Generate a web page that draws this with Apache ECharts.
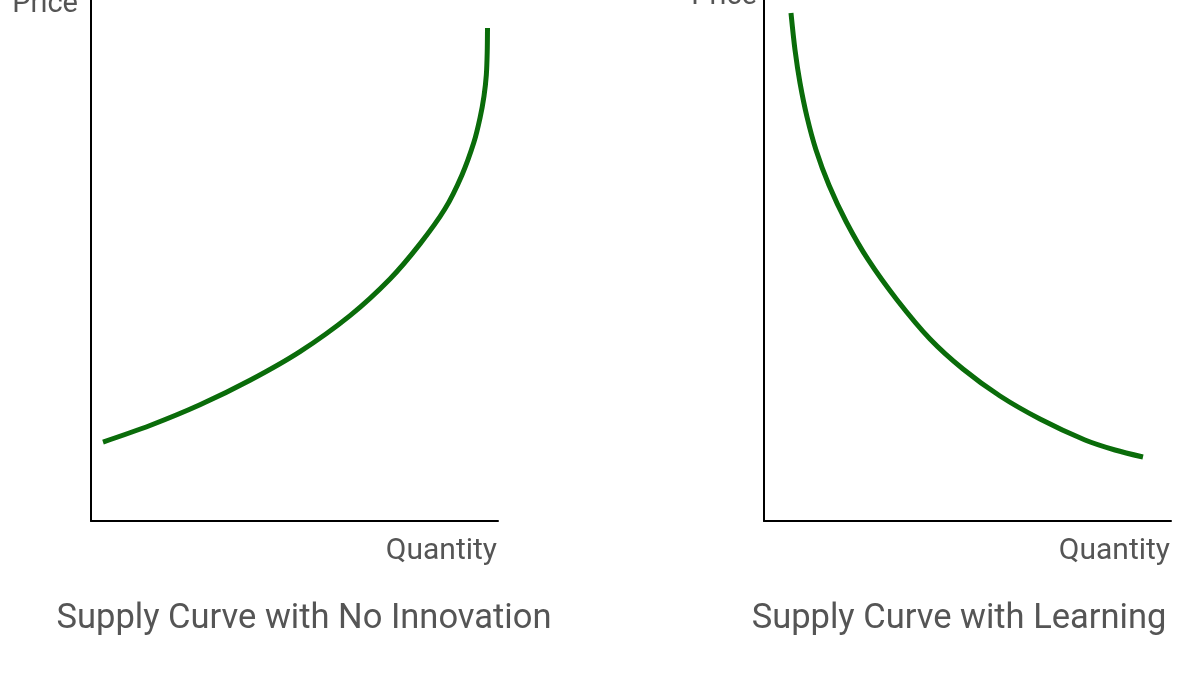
<!DOCTYPE html>
<html><head><meta charset="utf-8">
<script src="https://cdn.jsdelivr.net/npm/echarts@6/dist/echarts.min.js"></script>
<style>html,body{margin:0;padding:0;background:#fff}#c{width:1200px;height:675px}</style>
</head><body><div id="c"></div>
<script>
const titles = ['Supply Curve with No Innovation', 'Supply Curve with Learning'];
const xName = 'Quantity';
const yName = 'Price';
// Curve values (axis units 0..100)
const noInnovationX = [2.95, 14.50, 26.78, 39.07, 51.35, 63.64, 73.46, 80.84, 86.98, 91.15, 94.10, 95.58, 96.56, 97.13, 97.35, 97.42];
const noInnovationY = [15.16, 18.33, 22.30, 27.01, 32.51, 39.42, 46.45, 53.19, 59.92, 66.43, 72.74, 77.35, 81.57, 85.60, 90.02, 94.63];
const learningX = [6.63, 7.62, 8.85, 10.57, 12.78, 15.95, 20.22, 25.63, 32.70, 40.79, 48.89, 57.99, 67.81, 78.87, 86.24, 93.12];
const learningY = [97.50, 90.40, 84.07, 77.54, 71.21, 64.49, 57.39, 50.10, 42.42, 34.93, 29.17, 23.99, 19.58, 15.55, 13.63, 12.28];

const FONT = "'Roboto', sans-serif";
const TXT = '#555555';
const GREEN = '#0a6c0a';

function pairs(xs, ys) { return xs.map((x, i) => [x, ys[i]]); }

const chart = echarts.init(document.getElementById('c'));
function xAxis(i) {
  return {
    type: 'value', gridIndex: i, min: 0, max: 100,
    axisLine: { show: true, lineStyle: { color: '#000', width: 2 } },
    axisTick: { show: false }, axisLabel: { show: false }, splitLine: { show: false },
    name: xName, nameLocation: 'end', nameGap: -1,
    nameTextStyle: { fontFamily: FONT, fontSize: 30, color: TXT, align: 'right', verticalAlign: 'top', padding: [15, 0, 0, 0] }
  };
}
function yAxis(i, gap, pad) {
  return {
    type: 'value', gridIndex: i, min: 0, max: 100,
    axisLine: { show: true, lineStyle: { color: '#000', width: 2 } },
    axisTick: { show: false }, axisLabel: { show: false }, splitLine: { show: false },
    name: yName, nameLocation: 'end', nameGap: gap,
    nameTextStyle: { fontFamily: FONT, fontSize: 29, color: TXT, align: 'right', verticalAlign: 'bottom', padding: [0, pad, 0, 0] }
  };
}
chart.setOption({
  animation: false,
  backgroundColor: '#fff',
  title: [
    { text: titles[0], left: 299, top: 597, textAlign: 'center', textStyle: { fontFamily: FONT, fontSize: 34.5, fontWeight: 'normal', color: TXT } },
    { text: titles[1], left: 954, top: 597, textAlign: 'center', textStyle: { fontFamily: FONT, fontSize: 34.5, fontWeight: 'normal', color: TXT } }
  ],
  grid: [
    { left: 91, width: 407, top: 0, height: 521, containLabel: false, outerBoundsMode: 'none' },
    { left: 764, width: 407, top: 0, height: 521, containLabel: false, outerBoundsMode: 'none' }
  ],
  xAxis: [xAxis(0), xAxis(1)],
  yAxis: [yAxis(0, -19, 13), yAxis(1, -11, 7)],
  series: [
    { type: 'line', xAxisIndex: 0, yAxisIndex: 0, data: pairs(noInnovationX, noInnovationY), smooth: 0.3, showSymbol: false, lineStyle: { color: GREEN, width: 5 } },
    { type: 'line', xAxisIndex: 1, yAxisIndex: 1, data: pairs(learningX, learningY), smooth: 0.3, showSymbol: false, lineStyle: { color: GREEN, width: 5 } }
  ]
});
</script></body></html>
